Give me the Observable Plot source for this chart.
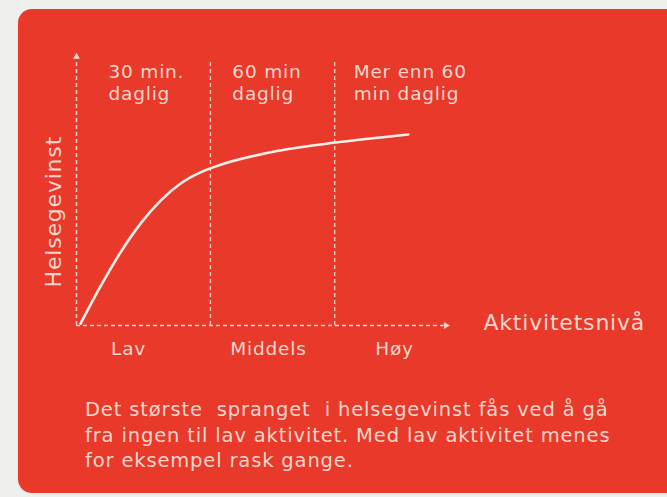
<!DOCTYPE html>
<html>
<head>
<meta charset="utf-8">
<script src="https://cdn.jsdelivr.net/npm/d3@7"></script>
<script src="https://cdn.jsdelivr.net/npm/@observablehq/plot@0.6"></script>
<style>
  html, body { margin: 0; padding: 0; width: 667px; height: 497px; overflow: hidden; background: #efefee; }
  #panel { position: absolute; left: 18px; top: 9px; width: 720px; height: 484px; background: #e8392b; border-radius: 14px; }
  #chart { position: absolute; left: 0; top: 0; }
  #chart svg { background: transparent; overflow: visible; }
  #caption { position: absolute; left: 85px; top: 397px; width: 560px; font-family: "DejaVu Sans", Verdana, sans-serif;
             font-size: 19.5px; line-height: 25.5px; color: #f8d6ca; letter-spacing: 0.85px; white-space: pre; }
</style>
</head>
<body>
<div id="panel"></div>
<div id="chart"></div>
<div id="caption"></div>
<script>
// Curve: activity level (x) vs health gain (y)
const curveX = [1.1, 6.45, 11.8, 17.2, 22.6, 28.0, 33.3, 38.7, 54.8, 69.6, 89.2];
const curveY = [0.7, 14.4, 26.9, 37.6, 46.1, 52.4, 56.5, 59.3, 64.6, 67.5, 70.5];

// Divider positions between activity bands
const dividerX = [36.0, 69.4];

// Band headers (top) and band names (bottom)
const headerText = ["30 min.\ndaglig", "60 min\ndaglig", "Mer enn 60\nmin daglig"];
const headerX = [8.6, 41.9, 74.5];
const bandNames = ["Lav", "Middels", "Høy"];
const bandX = [14.0, 51.6, 85.5];

const yTitle = "Helsegevinst";
const xTitle = "Aktivitetsnivå";
const captionLines = [
  "Det største  spranget  i helsegevinst fås ved å gå",
  "fra ingen til lav aktivitet. Med lav aktivitet menes",
  "for eksempel rask gange."
];

const curve = curveX.map((x, i) => ({x, y: curveY[i]}));
const headers = headerText.map((t, i) => ({t, x: headerX[i]}));
const bands = bandNames.map((t, i) => ({t, x: bandX[i]}));

const txt = "#f8d6ca";
const lineCol = "#f6d2c6";
const font = "DejaVu Sans, Verdana, sans-serif";

const plot = Plot.plot({
  width: 667,
  height: 380,
  marginLeft: 76,
  marginRight: 219,
  marginTop: 54,
  marginBottom: 55,
  style: {background: "transparent", fontFamily: font},
  x: {domain: [0, 100], axis: null},
  y: {domain: [0, 100], axis: null},
  marks: [
    // y axis (dashed, arrow at top)
    Plot.ruleX([0], {y1: 0, y2: 98.5, stroke: lineCol, strokeWidth: 1.5, strokeDasharray: "4,3"}),
    Plot.dot([{x: 0, y: 99.2}], {x: "x", y: "y", symbol: "triangle", r: 2.6, fill: lineCol, stroke: "none"}),
    // x axis (dashed, arrow at right)
    Plot.ruleY([0], {x1: 0, x2: 98.8, stroke: lineCol, strokeWidth: 1.5, strokeDasharray: "4,3"}),
    Plot.dot([{x: 99.3, y: 0}], {x: "x", y: "y", symbol: "triangle", rotate: 90, r: 2.6, fill: lineCol, stroke: "none"}),
    // band dividers
    Plot.ruleX(dividerX, {y1: 0, y2: 97.8, stroke: lineCol, strokeWidth: 1.3, strokeDasharray: "4,3"}),
    // health gain curve
    Plot.line(curve, {x: "x", y: "y", curve: "monotone-x", stroke: "#fdeee8", strokeWidth: 2.6}),
    // band headers
    Plot.text(headers, {x: "x", y: 97.1, text: "t", textAnchor: "start", lineAnchor: "top", lineHeight: 1.19,
      fontSize: 18.5, fill: txt, fontFamily: font}),
    // band names
    Plot.text(bands, {x: "x", y: 0, text: "t", textAnchor: "middle", lineAnchor: "bottom", dy: 29,
      fontSize: 18.5, fill: txt, fontFamily: font}),
    // axis titles
    Plot.text([xTitle], {x: 109.4, y: 0, text: d => d, textAnchor: "start", lineAnchor: "bottom", dy: 4,
      fontSize: 22, fill: txt, fontFamily: font}),
    Plot.text([yTitle], {x: 0, y: 42, text: d => d, rotate: -90, textAnchor: "middle", lineAnchor: "bottom", dx: -16,
      fontSize: 22, fill: txt, fontFamily: font})
  ]
});
plot.querySelectorAll("text").forEach(t => t.style.letterSpacing = "0.8px");
document.getElementById("chart").appendChild(plot);
document.getElementById("caption").textContent = captionLines.join("\n");
</script>
</body>
</html>
